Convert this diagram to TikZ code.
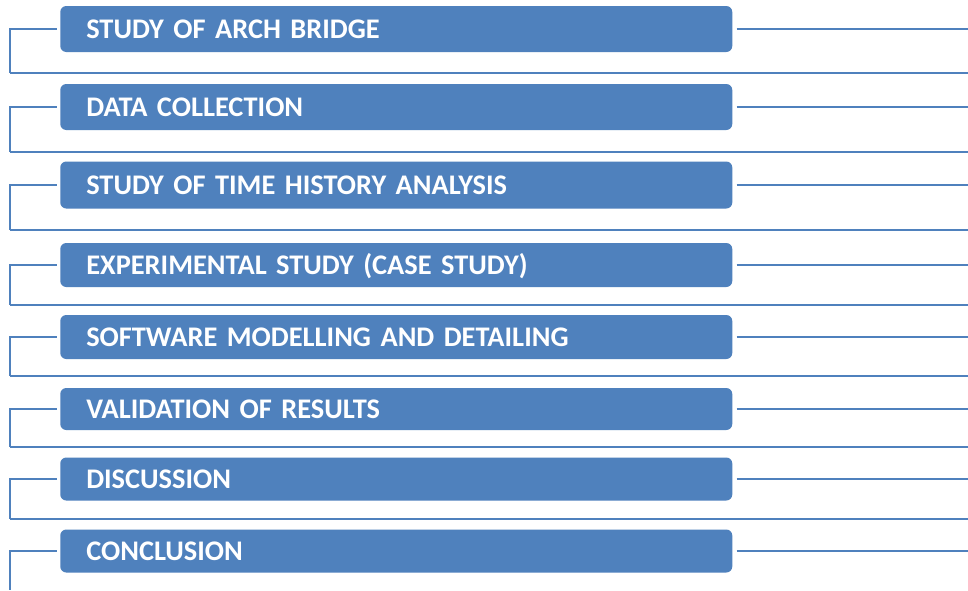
\documentclass[tikz,border=0pt]{standalone}
\usepackage{fontspec}
\newfontfamily\boxfont[WordSpace=0.7]{Carlito}
\definecolor{boxblue}{HTML}{4F81BD}
\definecolor{lineblue}{HTML}{4F81BD}
\tikzset{
  stagebox/.style={rectangle, rounded corners=4.5pt, fill=boxblue, draw=none,
    anchor=west, minimum width=504pt, text width=465pt, align=left,
    inner xsep=19.5pt, inner ysep=0pt, text height=13.6pt, text depth=0pt,
    text=white, font=\boxfont\bfseries\fontsize{21.3}{24}\selectfont},
  link/.style={draw=lineblue, line width=1.6pt},
}
\begin{document}
\begin{tikzpicture}[x=0.75pt, y=-0.75pt]
\useasboundingbox (0,0) rectangle (968,590);
\fill[white] (0,0) rectangle (968,590);
% rows: name / center y / height / text
\foreach \i/\cy/\h/\txt in {
  1/29/46/{STUDY OF ARCH BRIDGE},
  2/107/46/{DATA COLLECTION},
  3/185/47/{STUDY OF TIME HISTORY ANALYSIS},
  4/265/44/{EXPERIMENTAL STUDY (CASE STUDY)},
  5/337/44/{SOFTWARE MODELLING AND DETAILING},
  6/409/42/{VALIDATION OF RESULTS},
  7/479/43/{DISCUSSION},
  8/551/43/{CONCLUSION}}{
  \node[stagebox, minimum height=\h*0.75pt] (b\i) at (60,\cy) {\txt};
  \coordinate (l\i) at (10,\cy);
  \coordinate (r\i) at (968,\cy);
}
\foreach \i/\ly in {1/73,2/152,3/230,4/305,5/376,6/447,7/519}{
  \coordinate (bl\i) at (10,\ly);
  \coordinate (br\i) at (968,\ly);
}
\coordinate (bl8) at (10,590);
\foreach \i in {1,...,8}{
  \draw[link, shorten <=2.5pt] (b\i.west) -- (l\i) -- (bl\i);
  \draw[link, shorten <=3pt] (b\i.east) -- (r\i);
}
\foreach \i in {1,...,7}{
  \draw[link] (bl\i) -- (br\i);
}
\end{tikzpicture}
\end{document}
